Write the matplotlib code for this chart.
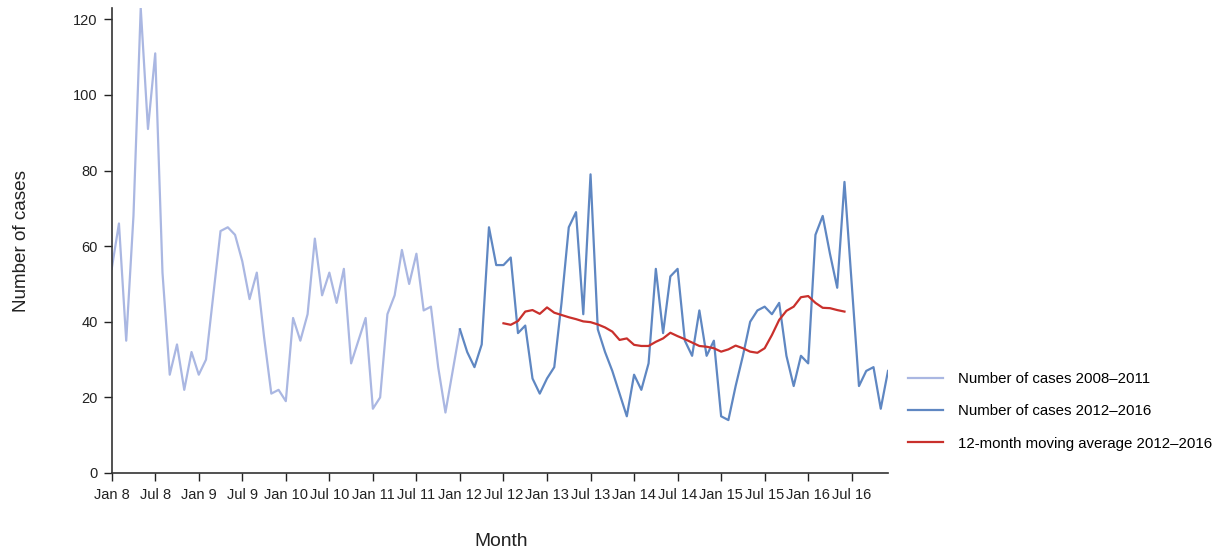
import matplotlib
matplotlib.use("Agg")
import matplotlib.pyplot as plt
import numpy as np

plt.rcParams['font.family'] = ['Liberation Sans', 'DejaVu Sans']

# Monthly case counts, Jan 2008 - Jan 2012 (light series)
cases_2008_2011 = [54, 66, 35, 68, 123, 91, 111, 53, 26, 34, 22, 32,
                   26, 30, 47, 64, 65, 63, 56, 46, 53, 36, 21, 22,
                   19, 41, 35, 42, 62, 47, 53, 45, 54, 29, 35, 41,
                   17, 20, 42, 47, 59, 50, 58, 43, 44, 28, 16, 27,
                   38]
# Monthly case counts, Jan 2012 - Dec 2016 (dark series)
cases_2012_2016 = [38, 32, 28, 34, 65, 55, 55, 57, 37, 39, 25, 21,
                   25, 28, 45, 65, 69, 42, 79, 38, 32, 27, 21, 15,
                   26, 22, 29, 54, 37, 52, 54, 35, 31, 43, 31, 35,
                   15, 14, 23, 31, 40, 43, 44, 42, 45, 31, 23, 31,
                   29, 63, 68, 58, 49, 77, 50, 23, 27, 28, 17, 27]
# 12-month moving average, Jul 2012 - Jun 2016
moving_avg = [39.6, 39.2, 40.2, 42.7, 43.1, 42.1, 43.8, 42.4, 41.8, 41.2, 40.7, 40.1,
              39.9, 39.3, 38.5, 37.4, 35.2, 35.6, 33.9, 33.6, 33.6, 34.7, 35.6, 37.1,
              36.2, 35.4, 34.5, 33.6, 33.4, 33.0, 32.1, 32.7, 33.7, 33.0, 32.1, 31.8,
              33.0, 36.5, 40.5, 42.9, 44.0, 46.5, 46.8, 45.0, 43.7, 43.6, 43.1, 42.7]

tick_labels = ["Jan 8", "Jul 8", "Jan 9", "Jul 9", "Jan 10", "Jul 10",
               "Jan 11", "Jul 11", "Jan 12", "Jul 12", "Jan 13", "Jul 13",
               "Jan 14", "Jul 14", "Jan 15", "Jul 15", "Jan 16", "Jul 16"]
legend_labels = ["Number of cases 2008\u20132011",
                 "Number of cases 2012\u20132016",
                 "12-month moving average 2012\u20132016"]

x_light = np.arange(len(cases_2008_2011))
x_dark = np.arange(len(cases_2012_2016)) + 48
x_ma = np.arange(len(moving_avg)) + 54

fig = plt.figure(figsize=(12.2, 5.53), dpi=100)
ax = fig.add_axes([111.7 / 1220, 1 - 473 / 553, (888 - 111.7) / 1220, (473 - 8) / 553])

c_light = '#aab7e2'
c_dark = '#5f87c2'
c_red = '#c9302c'
l1, = ax.plot(x_light, cases_2008_2011, color=c_light, lw=1.6)
l2, = ax.plot(x_dark, cases_2012_2016, color=c_dark, lw=1.6)
l3, = ax.plot(x_ma, moving_avg, color=c_red, lw=1.6)

ax.set_xlim(0, 107)
ax.set_ylim(0, 123)
ax.set_xticks(np.arange(0, 108, 6))
ax.set_xticklabels(tick_labels)
ax.set_yticks(np.arange(0, 121, 20))
for s in ['top', 'right']:
    ax.spines[s].set_visible(False)
for s in ['left', 'bottom']:
    ax.spines[s].set_color('#333333')
    ax.spines[s].set_linewidth(1.2)
ax.tick_params(axis='both', labelsize=10.5, colors='#222222', length=6, width=1)
ax.tick_params(axis='x', pad=5)
ax.tick_params(axis='y', pad=4)

fig.text(22 / 1220, 1 - 241 / 553, "Number of cases", rotation=90,
         ha='center', va='center', fontsize=13.6, color='#222222')
fig.text(501 / 1220, 1 - 542 / 553, "Month", ha='center', va='center',
         fontsize=13.9, color='#222222')

fig.legend([l1, l2, l3], legend_labels, loc='upper left',
           bbox_to_anchor=(908 / 1220, 1 - 372 / 553), frameon=False,
           fontsize=10.8, handlelength=2.33, handletextpad=1.0,
           labelspacing=1.22, borderpad=0, borderaxespad=0)

fig.savefig("out.png", dpi=100)
